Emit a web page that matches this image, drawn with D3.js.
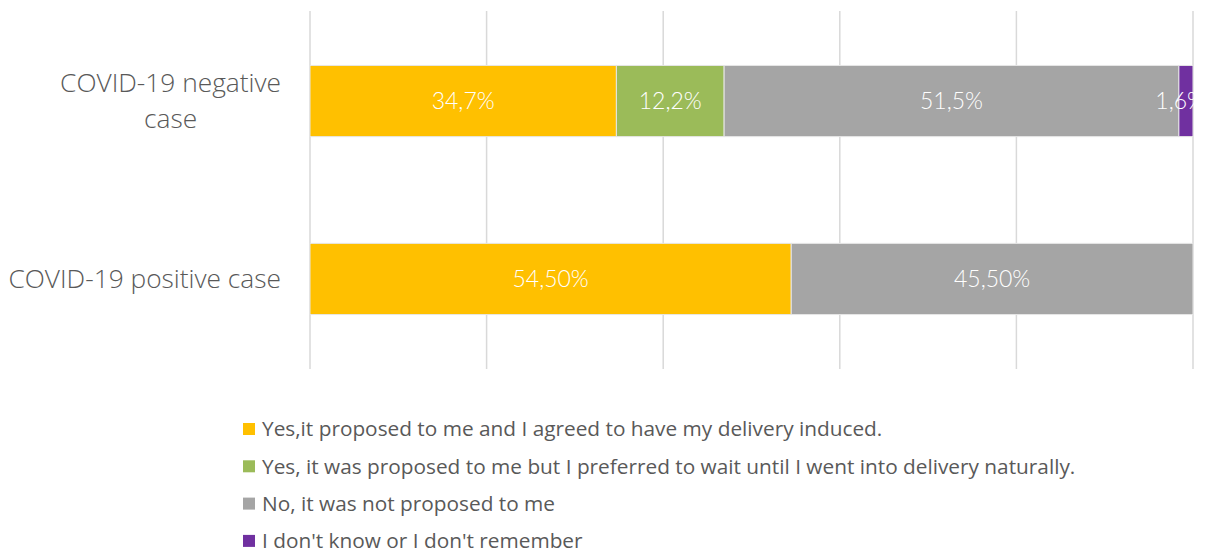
<!DOCTYPE html>
<html><head><meta charset="utf-8">
<script src="https://cdn.jsdelivr.net/npm/d3@7"></script>
<style>body{margin:0;background:#fff;} svg{display:block;}</style>
</head><body>
<svg id="c" width="1208" height="554"></svg>
<script>
const categories = ["COVID-19 negative case", "COVID-19 positive case"];
const seriesNames = [
  "Yes,it proposed to me and I agreed to have my delivery induced.",
  "Yes, it was proposed to me but I preferred to wait until I went into delivery naturally.",
  "No, it was not proposed to me",
  "I don't know or I don't remember"
];
const seriesColors = ["#FFC000", "#9BBB59", "#A5A5A5", "#7030A0"];
const yesInduced = [34.7, 54.5];
const yesWaited = [12.2, 0];
const notProposed = [51.5, 45.5];
const dontKnow = [1.6, 0];
const valueLabels = [["34,7%", "12,2%", "51,5%", "1,6%"], ["54,50%", "", "45,50%", ""]];
const xTicks = [0, 20, 40, 60, 80, 100];

const svg = d3.select("#c");
const x = d3.scaleLinear().domain([0, 100]).range([310, 1193]);
const y = d3.scaleBand().domain(categories).range([11, 369]).paddingInner(0.6).paddingOuter(0.306);

const rows = categories.map((c, i) => ({cat: c, v: [yesInduced[i], yesWaited[i], notProposed[i], dontKnow[i]]}));
const stack = d3.stack().keys([0,1,2,3]).value((d, k) => d.v[k]);
const stacked = stack(rows);

// gridlines
svg.append("g").selectAll("line").data(xTicks).join("line")
  .attr("x1", d => x(d)).attr("x2", d => x(d))
  .attr("y1", 11).attr("y2", 369)
  .attr("stroke", "#d9d9d9").attr("stroke-width", 1.5);

const g = svg.append("g");
stacked.forEach((s, k) => {
  g.selectAll(null).data(s.filter(d => d[1] - d[0] > 0)).join("rect")
    .attr("x", d => x(d[0])).attr("width", d => x(d[1]) - x(d[0]))
    .attr("y", d => y(d.data.cat)).attr("height", y.bandwidth())
    .attr("fill", seriesColors[k]).attr("stroke", "#e6e6e6").attr("stroke-width", 1);
});
const lg = svg.append("g");
stacked.forEach((s, k) => {
  lg.selectAll(null).data(s.filter(d => d[1] - d[0] > 0)).join("text")
    .attr("x", d => (x(d[0]) + x(d[1])) / 2)
    .attr("y", d => y(d.data.cat) + y.bandwidth() / 2)
    .attr("dy", "0.35em").attr("text-anchor", "middle")
    .attr("fill", "#fff").attr("font-family", "Lato, sans-serif").attr("font-weight", 300)
    .attr("font-size", 23)
    .text(d => valueLabels[categories.indexOf(d.data.cat)][k])
    .each(function() {
      const bb = this.getBBox();
      const over = bb.x + bb.width - 1205;
      if (over > 0) d3.select(this).attr("x", +d3.select(this).attr("x") - over);
    });
});

// category labels
const catLines = {"COVID-19 negative case": ["COVID-19 negative", "case"], "COVID-19 positive case": ["COVID-19 positive case"]};
categories.forEach(c => {
  const lines = catLines[c];
  const cy = y(c) + y.bandwidth() / 2;
  const t = svg.append("text").attr("font-family", "'Open Sans', sans-serif").attr("font-weight", 300)
    .attr("font-size", 26.3).attr("fill", "#595959").attr("text-anchor", "middle");
  const spans = lines.map((l, i) => t.append("tspan")
      .attr("y", cy + (i - (lines.length - 1) / 2) * 36).attr("dy", "0.35em").text(l));
  const w = d3.max(spans, s => s.node().getComputedTextLength());
  spans.forEach(s => s.attr("x", 281 - w / 2));
});

// legend
const leg = svg.append("g");
seriesNames.forEach((n, i) => {
  const yy = 429 + i * 37.3;
  leg.append("rect").attr("x", 243).attr("y", yy - 6).attr("width", 12).attr("height", 12).attr("fill", seriesColors[i]);
  leg.append("text").attr("x", 262).attr("y", yy).attr("dy", "0.35em")
    .attr("font-family", "'Open Sans', sans-serif").attr("font-size", 20.8).attr("fill", "#595959").text(n);
});
</script>
</body></html>
